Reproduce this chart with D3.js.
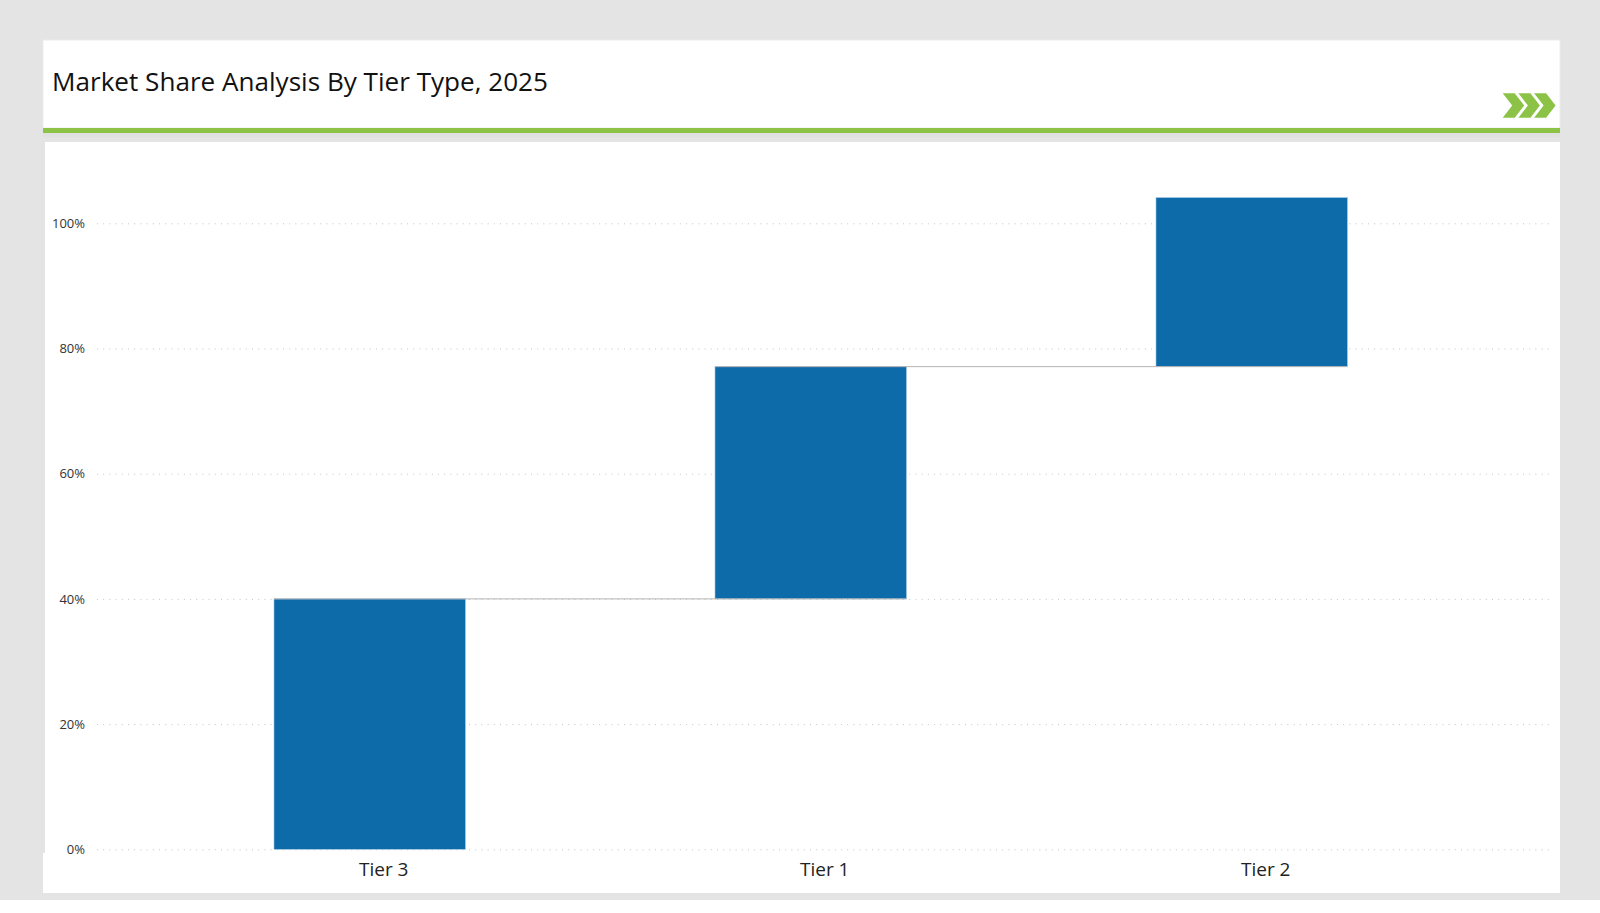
<!DOCTYPE html>
<html>
<head>
<meta charset="utf-8">
<script src="https://cdn.jsdelivr.net/npm/d3@7"></script>
<style>
  html, body { margin: 0; padding: 0; background: #fff; }
  svg { display: block; }
</style>
</head>
<body>
<div id="chart"></div>
<script>
// chart data
const title = "Market Share Analysis By Tier Type, 2025";
const tiers = ["Tier 3", "Tier 1", "Tier 2"];
const shares = [40, 37.1, 27];
const yTicks = [0, 20, 40, 60, 80, 100];

const width = 1600, height = 913;
const fontName = "'Open Sans', sans-serif";

const svg = d3.select("#chart")
    .append("svg")
    .attr("width", width)
    .attr("height", height);

// page background and cards
svg.append("rect").attr("width", width).attr("height", 900).attr("fill", "#e4e4e4");
svg.append("rect").attr("x", 43).attr("y", 40).attr("width", 1517).attr("height", 88)
    .attr("fill", "#fff").attr("stroke", "#ececec");
svg.append("rect").attr("x", 43).attr("y", 128).attr("width", 1517).attr("height", 5).attr("fill", "#8cc346");
svg.append("rect").attr("x", 43).attr("y", 133).attr("width", 1517).attr("height", 4).attr("fill", "#e0e0e0");
svg.append("rect").attr("x", 45).attr("y", 142).attr("width", 1515).attr("height", 712).attr("fill", "#fff");
svg.append("rect").attr("x", 43).attr("y", 853).attr("width", 1517).attr("height", 40).attr("fill", "#fff");

// title
svg.append("text")
    .attr("x", 52)
    .attr("y", 90.5)
    .attr("font-family", fontName)
    .attr("font-size", 26.1)
    .attr("fill", "#111")
    .text(title);

// the three arrows in the header
const chevron = "M0,0 H12 L21.5,12.2 L12,24.4 H0 L9.5,12.2 Z";
svg.append("g")
    .selectAll("path")
    .data([0, 1, 2])
    .enter()
    .append("path")
    .attr("d", chevron)
    .attr("transform", d => "translate(" + (1502.7 + d * 15.7) + ",93.3)")
    .attr("fill", "#8cc346");

// scales
const yScale = d3.scaleLinear().domain([0, 100]).range([849.3, 223.3]);
const xScale = d3.scaleBand()
    .domain(tiers)
    .range([149.2, 1472.2])
    .paddingInner(0.566)
    .paddingOuter(0.283);

// grid
const grid = svg.append("g")
    .attr("transform", "translate(97,0)")
    .call(d3.axisLeft(yScale).tickValues(yTicks).tickSize(-1452).tickFormat(""));
grid.select(".domain").remove();
grid.selectAll("line")
    .attr("stroke", "#c4c4c4")
    .attr("stroke-dasharray", "1 5.2");

// y axis labels
const yAxis = svg.append("g")
    .attr("transform", "translate(97,0)")
    .call(d3.axisLeft(yScale).tickValues(yTicks).tickSize(0).tickPadding(12).tickFormat(d => d + "%"));
yAxis.select(".domain").remove();
yAxis.selectAll("text")
    .attr("font-family", fontName)
    .attr("font-size", 13)
    .attr("fill", "#333");

// waterfall: every bar sits on the running total of the ones before it
const ends = Array.from(d3.cumsum(shares));
const bars = tiers.map((t, i) => ({ tier: t, start: ends[i] - shares[i], end: ends[i] }));

svg.selectAll(".bar")
    .data(bars)
    .enter()
    .append("rect")
    .attr("class", "bar")
    .attr("x", d => xScale(d.tier))
    .attr("y", d => yScale(d.end))
    .attr("width", xScale.bandwidth())
    .attr("height", d => yScale(d.start) - yScale(d.end))
    .attr("fill", "#0e6baa")
    .attr("stroke", "#9cc3e0")
    .attr("stroke-width", 0.6);

// connectors between the bars
svg.selectAll(".connector")
    .data(bars.slice(0, -1))
    .enter()
    .append("line")
    .attr("class", "connector")
    .attr("x1", d => xScale(d.tier))
    .attr("x2", (d, i) => xScale(tiers[i + 1]) + xScale.bandwidth())
    .attr("y1", d => yScale(d.end))
    .attr("y2", d => yScale(d.end))
    .attr("stroke", "#b4b4b4")
    .attr("stroke-width", 1);

// x axis labels sit a little to the right of the bars
const xAxis = svg.append("g")
    .attr("transform", "translate(14,849.3)")
    .call(d3.axisBottom(xScale).tickSize(0).tickPadding(13));
xAxis.select(".domain").remove();
xAxis.selectAll("text")
    .attr("font-family", fontName)
    .attr("font-size", 19)
    .attr("fill", "#222");
</script>
</body>
</html>
